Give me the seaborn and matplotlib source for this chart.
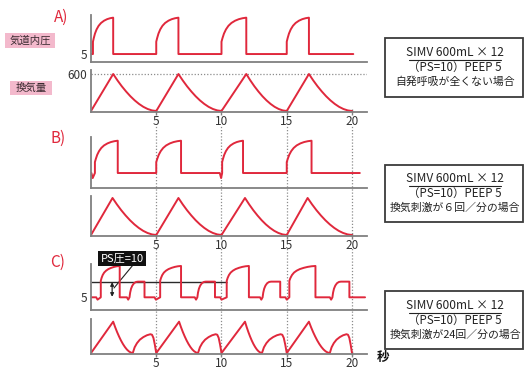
import numpy as np
import matplotlib
matplotlib.use("Agg")
import matplotlib.pyplot as plt
from matplotlib.patches import Rectangle
from matplotlib.lines import Line2D
import seaborn as sns

sns.set_theme(style="white")
plt.rcParams['font.family'] = ['Noto Sans CJK JP', 'DejaVu Sans']

W, H = 527, 369
RED = "#e0283c"
GREY = "#808080"
DARK = "#333333"
PINK = "#f3b9cc"

# ---------------- data ----------------
TIME_TICKS = [5, 10, 15, 20]
TIDAL = 600
PEEP = 5
PS_LEVEL = 15

# mandatory breath pressure shape: fraction of inspiratory time -> cmH2O
MAND_P_FRAC = [0, 0, 0.04, 0.10, 0.18, 0.28, 0.40, 0.55, 0.70, 0.85, 1.0, 1.0]
MAND_P_AB = [5, 11.5, 13.4, 15.8, 18.0, 19.9, 21.4, 22.6, 23.4, 23.9, 24.2, 5]
MAND_P_C = [5, 15.5, 17.3, 19.2, 20.8, 22.0, 23.0, 23.8, 24.4, 24.8, 25.0, 5]

# pressure-support breath: seconds after onset -> cmH2O
SPON_P_SEC = [0, 0.05, 0.12, 0.22, 0.35, 0.5, 0.65]
SPON_P_VAL = [5, 8, 10.5, 12.5, 14, 14.8, 15]

# passive exhalation of a mandatory breath: fraction of expiratory time -> mL
EXH_FRAC = [0, .1, .2, .3, .4, .5, .6, .7, .8, .9, 1]
EXH_VOL = [600, 496, 401, 316, 239, 172, 115, 68, 33, 10, 0]

# spontaneous breath volume: fraction of breath duration -> mL
SPON_V_FRAC = [0, 0.08, 0.18, 0.30, 0.45, 0.60, 0.75, 0.82, 0.88, 0.94, 1.0]
SPON_V_VAL = [0, 110, 190, 255, 305, 340, 360, 350, 290, 160, 0]

# A) no spontaneous breathing
A_MAND_ON = [0.15, 5.0, 10.0, 15.0]
A_MAND_OFF = [1.7, 6.7, 11.9, 16.7]
A_TRIG = [None, None, None, None]
A_P_END = 20.1
A_V_ON = [0, 5, 10, 15]
A_V_PEAK = [1.7, 6.7, 11.9, 16.7]
A_V_ZERO = [5, 10, 15, 20]

# B) 6 efforts / min
B_MAND_ON = [0.3, 5.0, 10.05, 15.0]
B_MAND_OFF = [2.05, 6.9, 11.65, 16.9]
B_TRIG = [0.13, None, 9.97, None]
B_P_END = 20.6
B_V_ON = [0, 5, 10, 15]
B_V_PEAK = [1.65, 6.7, 11.8, 16.6]
B_V_ZERO = [5, 10, 15, 20]

# C) 24 efforts / min
C_MAND_ON = [0.75, 5.3, 10.4, 15.2]
C_MAND_OFF = [2.2, 6.9, 12.1, 17.2]
C_MAND_TRIG = [0.5, 4.97, 10.0, 15.0]
C_SPON_ON = [2.95, 8.15, 13.15, 18.5]
C_SPON_OFF = [4.1, 9.5, 14.5, 19.8]
C_SPON_TRIG = [2.85, 8.05, 13.05, 18.4]
C_P_END = 21.0
C_V_MAND_ON = [0, 5, 10, 15]
C_V_MAND_PEAK = [1.7, 6.75, 11.8, 16.7]
C_V_MAND_ZERO = [3.2, 8.2, 13.1, 18.3]
C_V_SPON_END = [5.0, 10.0, 15.0, 20.0]


# ---------------- trace builders ----------------
def pressure_trace(events, t_end, mand_vals, dip=1.8):
    t, p = [0.0], [PEEP]
    for kind, on, off, trig in sorted(events, key=lambda e: e[1]):
        if trig is not None:
            t += [max(trig - 0.1, 0.0), trig]
            p += [PEEP, PEEP - dip]
        if kind == "M":
            for f, v in zip(MAND_P_FRAC, mand_vals):
                t.append(on + f * (off - on))
                p.append(v)
        else:
            for s, v in zip(SPON_P_SEC, SPON_P_VAL):
                t.append(on + s)
                p.append(v)
            t += [off, off]
            p += [PS_LEVEL, PEEP]
    t.append(t_end)
    p.append(PEEP)
    return np.array(t), np.array(p)


def mand_volume(on, peak, zero):
    t = [on, peak] + [peak + f * (zero - peak) for f in EXH_FRAC[1:]]
    v = [0, TIDAL] + EXH_VOL[1:]
    return t, v


def spon_volume(on, end):
    return [on + f * (end - on) for f in SPON_V_FRAC], list(SPON_V_VAL)


def join(parts):
    t, v = [], []
    for pt, pv in parts:
        t += list(pt)
        v += list(pv)
    return np.array(t), np.array(v)


A_p = pressure_trace([("M", a, b, c) for a, b, c in zip(A_MAND_ON, A_MAND_OFF, A_TRIG)],
                     A_P_END, MAND_P_AB)
B_p = pressure_trace([("M", a, b, c) for a, b, c in zip(B_MAND_ON, B_MAND_OFF, B_TRIG)],
                     B_P_END, MAND_P_AB, dip=3.0)
C_p = pressure_trace([("M", a, b, c) for a, b, c in zip(C_MAND_ON, C_MAND_OFF, C_MAND_TRIG)]
                     + [("S", a, b, c) for a, b, c in zip(C_SPON_ON, C_SPON_OFF, C_SPON_TRIG)],
                     C_P_END, MAND_P_C, dip=1.5)

A_v = join([mand_volume(a, b, c) for a, b, c in zip(A_V_ON, A_V_PEAK, A_V_ZERO)])
B_v = join([mand_volume(a, b, c) for a, b, c in zip(B_V_ON, B_V_PEAK, B_V_ZERO)])
C_parts = []
for a, b, c, e in zip(C_V_MAND_ON, C_V_MAND_PEAK, C_V_MAND_ZERO, C_V_SPON_END):
    C_parts.append(mand_volume(a, b, c))
    C_parts.append(spon_volume(c, e))
C_v = join(C_parts)

# ---------------- figure ----------------
fig = plt.figure(figsize=(W / 100, H / 100), dpi=100)
XMAX = 21.15
X0, X1 = 91, 367


def px_axes(y0, y1, zorder=2):
    ax = fig.add_axes([X0 / W, 1 - y1 / H, (X1 - X0) / W, (y1 - y0) / H], zorder=zorder)
    ax.set_facecolor("none")
    ax.set_xlim(0, XMAX)
    return ax


def style(ax, ylim, xticks=False, yticks=None):
    ax.set_ylim(*ylim)
    for s in ("top", "right"):
        ax.spines[s].set_visible(False)
    for s in ("left", "bottom"):
        ax.spines[s].set_color(GREY)
        ax.spines[s].set_linewidth(1.3)
    ax.grid(False)
    if xticks:
        ax.set_xticks(TIME_TICKS)
        ax.set_xticklabels([str(v) for v in TIME_TICKS])
        ax.tick_params(axis="x", bottom=True, direction="inout", length=5, width=1,
                       color=GREY, labelsize=8.5, labelcolor=DARK, pad=0)
    else:
        ax.set_xticks([])
    if yticks:
        ax.set_yticks([yticks[0]])
        ax.set_yticklabels([yticks[1]])
        ax.tick_params(axis="y", left=False, length=0, labelsize=8.5, labelcolor=DARK, pad=3)
    else:
        ax.set_yticks([])
    ax.set_xlabel("")
    ax.set_ylabel("")


def trace(ax, tv):
    sns.lineplot(x=tv[0], y=tv[1], ax=ax, color=RED, linewidth=1.4,
                 sort=False, estimator=None, legend=False)


# dotted time guides for B and C
for y0, y1 in [(125, 237), (247, 356)]:
    g = px_axes(y0, y1, zorder=1)
    g.set_ylim(0, 1)
    g.axis("off")
    g.vlines(TIME_TICKS, 0, 1, colors="#8c8c8c", linestyles=(0, (1, 1.5)), linewidth=0.9)

axA_p = px_axes(15, 62)
axA_v = px_axes(70, 112)
axB_p = px_axes(137, 188)
axB_v = px_axes(196, 236)
axC_p = px_axes(264, 310)
axC_v = px_axes(319, 354)

style(axA_p, (0.8, 25.6), yticks=(5, "5"))
style(axA_v, (-16, 665), xticks=True, yticks=(600, "600"))
style(axB_p, (-3.9, 26.4))
style(axB_v, (-16, 632), xticks=True)
style(axC_p, (-3.1, 26.25), yticks=(5, "5"))
style(axC_v, (-18, 651), xticks=True)

axA_v.axhline(TIDAL, color="#8c8c8c", linestyle=(0, (1, 1.5)), linewidth=0.9)

trace(axA_p, A_p)
trace(axA_v, A_v)
trace(axB_p, B_p)
trace(axB_v, B_v)
trace(axC_p, C_p)
trace(axC_v, C_v)

# pressure-support level reference and annotation
axC_p.hlines(PS_LEVEL, 0, 10.42, colors="#2a2a2a", linewidth=1.0, zorder=1)
axC_p.annotate("", xy=(1.62, PEEP + 0.3), xytext=(1.62, PS_LEVEL - 0.3),
               arrowprops=dict(arrowstyle="<|-|>", mutation_scale=5, lw=0.9,
                               color="#222222", shrinkA=0, shrinkB=0))


def ftext(x, y, s, **kw):
    return fig.text(x / W, 1 - y / H, s, **kw)


def frect(x0, y0, x1, y1, **kw):
    fig.add_artist(Rectangle((x0 / W, 1 - y1 / H), (x1 - x0) / W, (y1 - y0) / H,
                             transform=fig.transFigure, **kw))


def fline(x0, y0, x1, y1, **kw):
    fig.add_artist(Line2D([x0 / W, x1 / W], [1 - y0 / H, 1 - y1 / H],
                          transform=fig.transFigure, **kw))


ftext(122, 258.5, "PS圧=10", color="white", fontsize=8, ha="center", va="center",
      bbox=dict(boxstyle="square,pad=0.25", fc="#111111", ec="none"))
fline(133, 265, 114, 288, color="#222222", lw=0.8)

# panel letters
for x, y, s in [(61, 17, "A)"), (58, 138, "B)"), (58, 262, "C)")]:
    ftext(x, y, s, color=RED, fontsize=11, ha="center", va="center")

# row labels
frect(5, 33, 55, 48, fc=PINK, ec="none")
ftext(30, 40.5, "気道内圧", fontsize=7.5, ha="center", va="center", color="#3a2a30")
frect(10, 81, 52, 95, fc=PINK, ec="none")
ftext(31, 88, "換気量", fontsize=7.5, ha="center", va="center", color="#3a2a30")

# settings boxes
boxes = [
    (38, 97, "自発呼吸が全くない場合"),
    (165, 222, "換気刺激が６回／分の場合"),
    (291, 349, "換気刺激が24回／分の場合"),
]
for y0, y1, note in boxes:
    frect(385, y0, 523, y1, fc="none", ec="#3c3c3c", lw=1.3)
    yc = (y0 + y1) / 2
    ftext(455, yc - 14.5, "SIMV 600mL × 12", fontsize=8.6, ha="center", va="center", color="#222222")
    fline(409, yc - 7.5, 501, yc - 7.5, color="#222222", lw=0.8)
    ftext(455, yc, "（PS=10）PEEP 5", fontsize=8.3, ha="center", va="center", color="#222222")
    ftext(455, yc + 14.5, note, fontsize=7.8, ha="center", va="center", color="#222222")

ftext(383, 357, "秒", fontsize=9, fontweight="bold", ha="center", va="center", color="#111111")

fig.savefig("out.png", dpi=100)
